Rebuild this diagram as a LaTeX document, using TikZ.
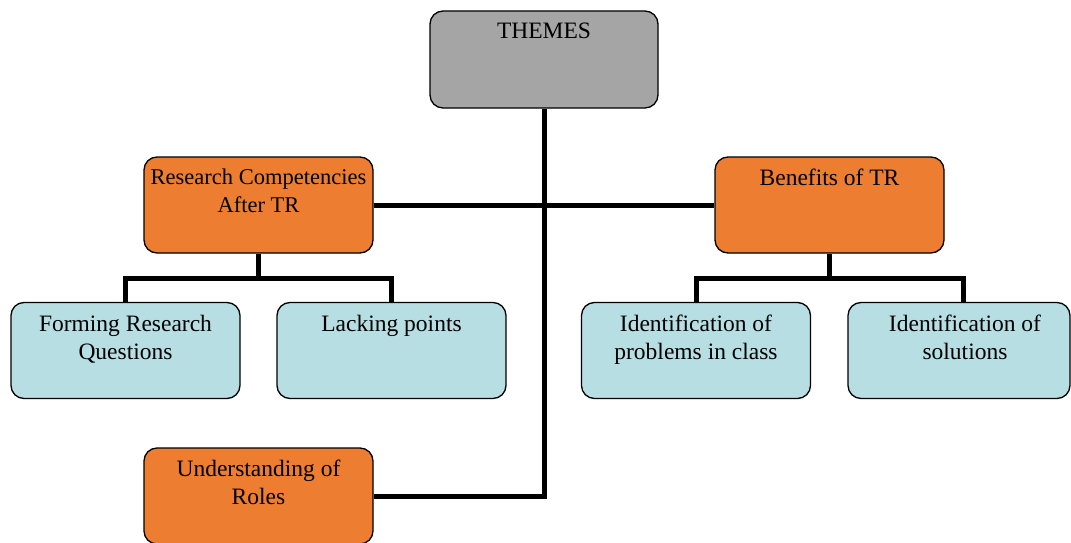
\documentclass[tikz,border=0pt]{standalone}
\usepackage{fontspec}
\setmainfont{Liberation Serif}
\definecolor{themegray}{HTML}{A5A5A5}
\definecolor{mainorange}{HTML}{ED7D31}
\definecolor{subblue}{HTML}{B7DEE3}
\begin{document}
\begin{tikzpicture}[x=1pt,y=-1pt,
  box/.style={draw=black, line width=1.3pt, rounded corners=13pt,
    minimum width=229pt, minimum height=96pt, inner sep=0pt},
  theme/.style={box, fill=themegray},
  main/.style={box, fill=mainorange},
  sub/.style={box, fill=subblue},
  txt/.style={anchor=north, align=center, inner sep=0pt, yshift=-12pt,
    font=\fontsize{23.5}{28}\selectfont},
  link/.style={line width=5pt}]
\useasboundingbox (0,0) rectangle (1071,543);

% boxes
\node[theme, minimum width=228pt, minimum height=97pt] (themes) at (544,59.5)
  {};
\node[txt] (themesT) at (themes.north) {THEMES};

\node[main] (rc) at (258.5,205) {};
\node[txt, font=\fontsize{22.5}{28}\selectfont] (rcT) at (rc.north)
  {Research Competencies\\After TR};

\node[main] (ben) at (829.5,205) {};
\node[txt] (benT) at (ben.north) {Benefits of TR};

\node[sub] (frq) at (125.5,350.5) {};
\node[txt, yshift=-1pt] (frqT) at (frq.north) {Forming Research\\Questions};

\node[sub] (lp) at (391.5,350.5) {};
\node[txt, yshift=-1pt] (lpT) at (lp.north) {Lacking points};

\node[sub] (ip) at (696,350.5) {};
\node[txt, yshift=-1pt] (ipT) at (ip.north) {Identification of\\problems in class};

\node[sub, minimum width=222pt] (is) at (959,350.5) {};
\node[txt, yshift=-1pt, xshift=6pt] (isT) at (is.north) {Identification of\\solutions};

\node[main] (und) at (258.5,496) {};
\node[txt] (undT) at (und.north) {Understanding of\\Roles};

% trunk and branches
\draw[link] (themes.south) -- (themes.south |- und.east) -- (und.east);
\draw[link] (rc.east) -- (ben.west);

\coordinate (rcbus) at (258.5,278);
\draw[link] (rc.south) -- (rcbus);
\draw[link] (frq.north) |- (rcbus) -| (lp.north);

\coordinate (benbus) at (829.5,278);
\draw[link] (ben.south) -- (benbus);
\draw[link] (ip.north) |- (benbus) -| (is.north -| 963,0);
\end{tikzpicture}
\end{document}
